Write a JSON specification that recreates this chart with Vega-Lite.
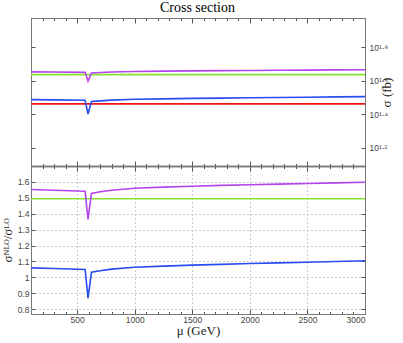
{
  "$schema": "https://vega.github.io/schema/vega-lite/v6.json",
  "padding": {"left": 0, "top": 1, "right": 4, "bottom": 2},
  "spacing": 0,
  "bounds": "flush",
  "title": {"text": "Cross section", "font": "Liberation Serif", "fontSize": 14, "fontWeight": "normal", "color": "#000", "offset": 2, "anchor": "middle"},
  "config": {
    "view": {"stroke": "#777", "strokeWidth": 1},
    "axis": {"domainColor": "#777", "tickColor": "#555", "labelColor": "#444", "labelFont": "Liberation Sans", "labelFontSize": 8.5, "titleFont": "Liberation Serif", "titleFontWeight": "normal", "titleColor": "#222", "titleFontSize": 13}
  },
  "datasets": {
    "xs": [
      {"mu": 100, "series": "LO", "sigma": 28.9, "ratio": 1},
      {"mu": 3000, "series": "LO", "sigma": 28.9, "ratio": 1},
      {"mu": 100, "series": "NLO (K)", "sigma": 43.18, "ratio": 1.494},
      {"mu": 3000, "series": "NLO (K)", "sigma": 43.18, "ratio": 1.494},
      {"mu": 100, "series": "NLO", "sigma": 30.63, "ratio": 1.060},
      {"mu": 300, "series": "NLO", "sigma": 30.52, "ratio": 1.056},
      {"mu": 570, "series": "NLO", "sigma": 30.35, "ratio": 1.050},
      {"mu": 595, "series": "NLO", "sigma": 25.14, "ratio": 0.870},
      {"mu": 625, "series": "NLO", "sigma": 29.82, "ratio": 1.032},
      {"mu": 700, "series": "NLO", "sigma": 30.11, "ratio": 1.042},
      {"mu": 800, "series": "NLO", "sigma": 30.40, "ratio": 1.052},
      {"mu": 1000, "series": "NLO", "sigma": 30.75, "ratio": 1.064},
      {"mu": 1250, "series": "NLO", "sigma": 30.95, "ratio": 1.071},
      {"mu": 1500, "series": "NLO", "sigma": 31.13, "ratio": 1.077},
      {"mu": 1750, "series": "NLO", "sigma": 31.27, "ratio": 1.082},
      {"mu": 2000, "series": "NLO", "sigma": 31.41, "ratio": 1.087},
      {"mu": 2250, "series": "NLO", "sigma": 31.53, "ratio": 1.091},
      {"mu": 2500, "series": "NLO", "sigma": 31.65, "ratio": 1.095},
      {"mu": 2750, "series": "NLO", "sigma": 31.79, "ratio": 1.100},
      {"mu": 3000, "series": "NLO", "sigma": 31.93, "ratio": 1.105},
      {"mu": 100, "series": "NLO (full)", "sigma": 44.85, "ratio": 1.552},
      {"mu": 300, "series": "NLO (full)", "sigma": 44.74, "ratio": 1.548},
      {"mu": 570, "series": "NLO (full)", "sigma": 44.53, "ratio": 1.541},
      {"mu": 595, "series": "NLO (full)", "sigma": 39.45, "ratio": 1.365},
      {"mu": 625, "series": "NLO (full)", "sigma": 44.13, "ratio": 1.527},
      {"mu": 700, "series": "NLO (full)", "sigma": 44.45, "ratio": 1.538},
      {"mu": 800, "series": "NLO (full)", "sigma": 44.74, "ratio": 1.548},
      {"mu": 1000, "series": "NLO (full)", "sigma": 45.08, "ratio": 1.560},
      {"mu": 1250, "series": "NLO (full)", "sigma": 45.29, "ratio": 1.567},
      {"mu": 1500, "series": "NLO (full)", "sigma": 45.46, "ratio": 1.573},
      {"mu": 1750, "series": "NLO (full)", "sigma": 45.60, "ratio": 1.578},
      {"mu": 2000, "series": "NLO (full)", "sigma": 45.72, "ratio": 1.582},
      {"mu": 2250, "series": "NLO (full)", "sigma": 45.84, "ratio": 1.586},
      {"mu": 2500, "series": "NLO (full)", "sigma": 45.95, "ratio": 1.590},
      {"mu": 2750, "series": "NLO (full)", "sigma": 46.07, "ratio": 1.594},
      {"mu": 3000, "series": "NLO (full)", "sigma": 46.18, "ratio": 1.598}
    ]
  },
  "vconcat": [
    {
      "width": 334,
      "height": 148,
      "data": {"name": "xs"},
      "layer": [
        {
          "mark": {"type": "line", "strokeWidth": 1.6, "clip": true},
          "encoding": {
            "x": {"field": "mu", "type": "quantitative", "scale": {"domain": [100, 3000], "nice": false, "zero": false},
              "axis": {"orient": "bottom", "title": null, "labels": false, "grid": false, "domainWidth": 1.5,
                "values": [100,200,300,400,500,600,700,800,900,1000,1100,1200,1300,1400,1500,1600,1700,1800,1900,2000,2100,2200,2300,2400,2500,2600,2700,2800,2900,3000],
                "tickSize": {"condition": {"test": "datum.value % 500 === 0", "value": -5}, "value": -2.5}}},
            "y": {"field": "sigma", "type": "quantitative", "scale": {"type": "log", "domain": [12.3, 94], "nice": false},
              "axis": {"orient": "left", "title": null, "labels": false, "grid": false, "values": [15.85, 25.12, 39.81, 63.1], "tickSize": -4}},
            "color": {"field": "series", "type": "nominal", "legend": null,
              "scale": {"domain": ["LO", "NLO", "NLO (full)", "NLO (K)"], "range": ["#f01414", "#2a4cf0", "#b444ee", "#84e42a"]}}
          }
        },
        {
          "mark": {"type": "line", "opacity": 0},
          "encoding": {
            "x": {"field": "mu", "type": "quantitative",
              "axis": {"orient": "top", "title": null, "labels": false, "grid": false,
                "values": [100,200,300,400,500,600,700,800,900,1000,1100,1200,1300,1400,1500,1600,1700,1800,1900,2000,2100,2200,2300,2400,2500,2600,2700,2800,2900,3000],
                "tickSize": {"condition": {"test": "datum.value % 500 === 0", "value": -5}, "value": -2.5}}},
            "y": {"field": "sigma", "type": "quantitative",
              "axis": {"orient": "right", "title": "σ (fb)", "titleAngle": 270, "titlePadding": 6, "grid": false, "values": [15.85, 25.12, 39.81, 63.1], "tickSize": -4, "labelPadding": 8,
                "labelExpr": "datum.value < 20 ? '10¹·²' : datum.value < 30 ? '10¹·⁴' : datum.value < 50 ? '10¹·⁶' : '10¹·⁸'"}},
            "detail": {"field": "series"}
          }
        }
      ],
      "resolve": {"axis": {"x": "independent", "y": "independent"}}
    },
    {
      "width": 334,
      "height": 148,
      "data": {"name": "xs"},
      "transform": [{"filter": "datum.series !== 'LO'"}],
      "layer": [
        {
          "mark": {"type": "line", "strokeWidth": 1.6, "clip": true},
          "encoding": {
            "x": {"field": "mu", "type": "quantitative", "scale": {"domain": [100, 3000], "nice": false, "zero": false},
              "axis": {"orient": "bottom", "title": "μ (GeV)", "titlePadding": 1, "format": "d", "labelPadding": 6,
                "values": [100,200,300,400,500,600,700,800,900,1000,1100,1200,1300,1400,1500,1600,1700,1800,1900,2000,2100,2200,2300,2400,2500,2600,2700,2800,2900,3000],
                "labelExpr": "datum.value % 500 === 0 ? datum.label : ''",
                "tickSize": {"condition": {"test": "datum.value % 500 === 0", "value": -5}, "value": -2.5},
                "grid": true, "gridDash": [1, 3], "gridColor": "#999",
                "gridOpacity": {"condition": {"test": "datum.value % 500 === 0", "value": 1}, "value": 0}}},
            "y": {"field": "ratio", "type": "quantitative", "scale": {"domain": [0.77, 1.7], "nice": false, "zero": false},
              "axis": {"orient": "left", "title": "σᴺᴸᴼ/σᴸᴼ", "titlePadding": 3, "format": "~g", "labelPadding": 6,
                "values": [0.8, 0.9, 1, 1.1, 1.2, 1.3, 1.4, 1.5, 1.6], "tickSize": -4,
                "grid": true, "gridDash": [1, 3], "gridColor": "#999"}},
            "color": {"field": "series", "type": "nominal", "legend": null,
              "scale": {"domain": ["LO", "NLO", "NLO (full)", "NLO (K)"], "range": ["#f01414", "#2a4cf0", "#b444ee", "#84e42a"]}}
          }
        },
        {
          "mark": {"type": "line", "opacity": 0},
          "encoding": {
            "x": {"field": "mu", "type": "quantitative",
              "axis": {"orient": "top", "title": null, "labels": false, "grid": false, "domainWidth": 1.5,
                "values": [100,200,300,400,500,600,700,800,900,1000,1100,1200,1300,1400,1500,1600,1700,1800,1900,2000,2100,2200,2300,2400,2500,2600,2700,2800,2900,3000],
                "tickSize": {"condition": {"test": "datum.value % 500 === 0", "value": -5}, "value": -2.5}}},
            "y": {"field": "ratio", "type": "quantitative",
              "axis": {"orient": "right", "title": null, "labels": false, "grid": false, "values": [0.8, 0.9, 1, 1.1, 1.2, 1.3, 1.4, 1.5, 1.6], "tickSize": -4}},
            "detail": {"field": "series"}
          }
        }
      ],
      "resolve": {"axis": {"x": "independent", "y": "independent"}}
    }
  ]
}
